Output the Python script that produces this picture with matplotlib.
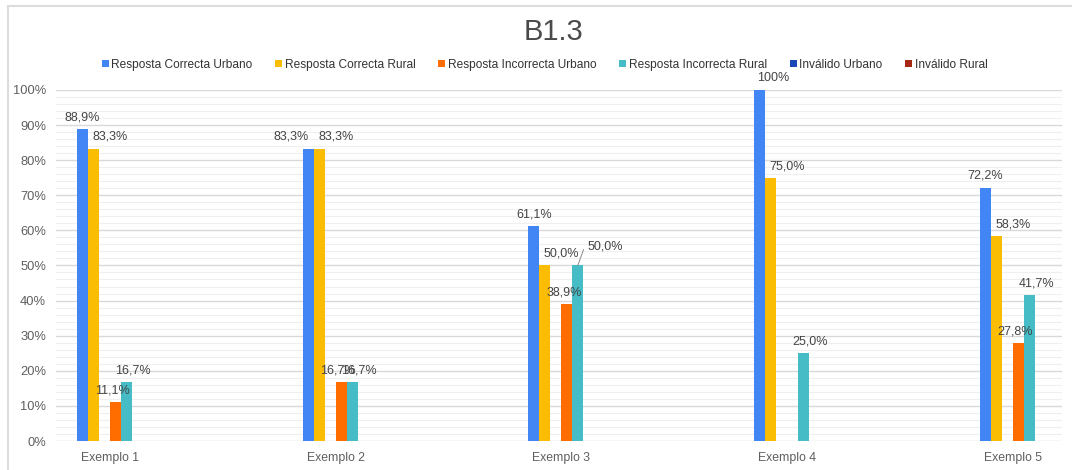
import numpy as np
import matplotlib.pyplot as plt
from matplotlib.patches import Rectangle
from matplotlib.ticker import MultipleLocator, PercentFormatter

plt.rcParams['font.family'] = ['Liberation Sans', 'DejaVu Sans']

# ================== DATA ==================
title = 'B1.3'
categories = ['Exemplo 1', 'Exemplo 2', 'Exemplo 3', 'Exemplo 4', 'Exemplo 5']
series_names = ['Resposta Correcta Urbano', 'Resposta Correcta Rural',
                'Resposta Incorrecta Urbano', 'Resposta Incorrecta Rural',
                'Inválido Urbano', 'Inválido Rural']
correcta_urbano = [88.9, 83.3, 61.1, 100.0, 72.2]
correcta_rural = [83.3, 83.3, 50.0, 75.0, 58.3]
incorrecta_urbano = [11.1, 16.7, 38.9, 0.0, 27.8]
incorrecta_rural = [16.7, 16.7, 50.0, 25.0, 41.7]
invalido_urbano = [0.0, 0.0, 0.0, 0.0, 0.0]
invalido_rural = [0.0, 0.0, 0.0, 0.0, 0.0]

# ================== STYLE ==================
colors = ['#4285F4', '#FBBC04', '#FF6D01', '#46BDC6', '#1A47B8', '#A52714']
# slot of each series inside a group (sheets leaves a gap after the rural bar)
slots = [-2.5, -1.5, 0.5, 1.5, -0.5, 2.5]
label_dx = [0, 12, -2, 5, 0, 0]   # points, to keep labels apart
bar_w = 0.0487

all_series = [correcta_urbano, correcta_rural, incorrecta_urbano,
              incorrecta_rural, invalido_urbano, invalido_rural]

fig = plt.figure(figsize=(10.72, 4.70), dpi=100)
fig.patches.append(Rectangle((0.007, -0.01), 1.0, 0.998, transform=fig.transFigure,
                             fill=False, edgecolor='#dcdcdc', linewidth=1.5))
ax = fig.add_axes([0.052, 0.0617, 0.939, 0.747])

x = np.arange(len(categories))
for i, (name, vals) in enumerate(zip(series_names, all_series)):
    xs = x + slots[i] * bar_w
    ax.bar(xs, vals, width=bar_w, color=colors[i], label=name, zorder=3)
    for j, (xx, v) in enumerate(zip(xs, vals)):
        if v <= 0:
            continue
        txt = f'{v:.1f}%'.replace('.', ',') if v < 100 else '100%'
        dx = label_dx[i]
        if i == 0 and j == 1:
            dx = -12
        if i == 0 and j == 3:
            dx = 10
        if i == 3 and j == 2:
            ax.annotate(txt, xy=(xx, v), xytext=(20, 9), textcoords='offset points',
                        ha='center', va='bottom', fontsize=9, color='#444444',
                        arrowprops=dict(arrowstyle='-', color='#999999', lw=0.8,
                                        shrinkA=2, shrinkB=0,
                                        connectionstyle='angle,angleA=180,angleB=70,rad=2'),
                        annotation_clip=False, zorder=6)
            continue
        ax.annotate(txt, xy=(xx, v), xytext=(dx, 4), textcoords='offset points',
                    ha='center', va='bottom', fontsize=9, color='#444444',
                    annotation_clip=False, zorder=6)

ax.set_xlim(-0.24, 4.22)
ax.set_ylim(0, 100)
ax.set_xticks(x)
ax.set_xticklabels(categories)
ax.yaxis.set_major_locator(MultipleLocator(10))
ax.yaxis.set_minor_locator(MultipleLocator(2))
ax.yaxis.set_major_formatter(PercentFormatter(decimals=0))
ax.grid(which='major', axis='y', color='#d9d9d9', linewidth=1.0, zorder=0)
ax.grid(which='minor', axis='y', color='#efefef', linewidth=0.8, zorder=0)
ax.tick_params(axis='both', which='both', length=0, labelsize=9.3, colors='#5f5f5f')
ax.tick_params(axis='x', pad=8, labelsize=8.8)
ax.tick_params(axis='y', pad=7)
for s in ax.spines.values():
    s.set_visible(False)

fig.text(0.516, 0.932, title, ha='center', va='center', fontsize=21, color='#4a4a4a')
fig.legend(loc='center', bbox_to_anchor=(0.508, 0.862), ncol=6, frameon=False,
           fontsize=8.6, handlelength=0.6, handleheight=0.6, handletextpad=0.2,
           columnspacing=1.9, labelcolor='#333333')

plt.savefig('out.png', dpi=100)
plt.close()
